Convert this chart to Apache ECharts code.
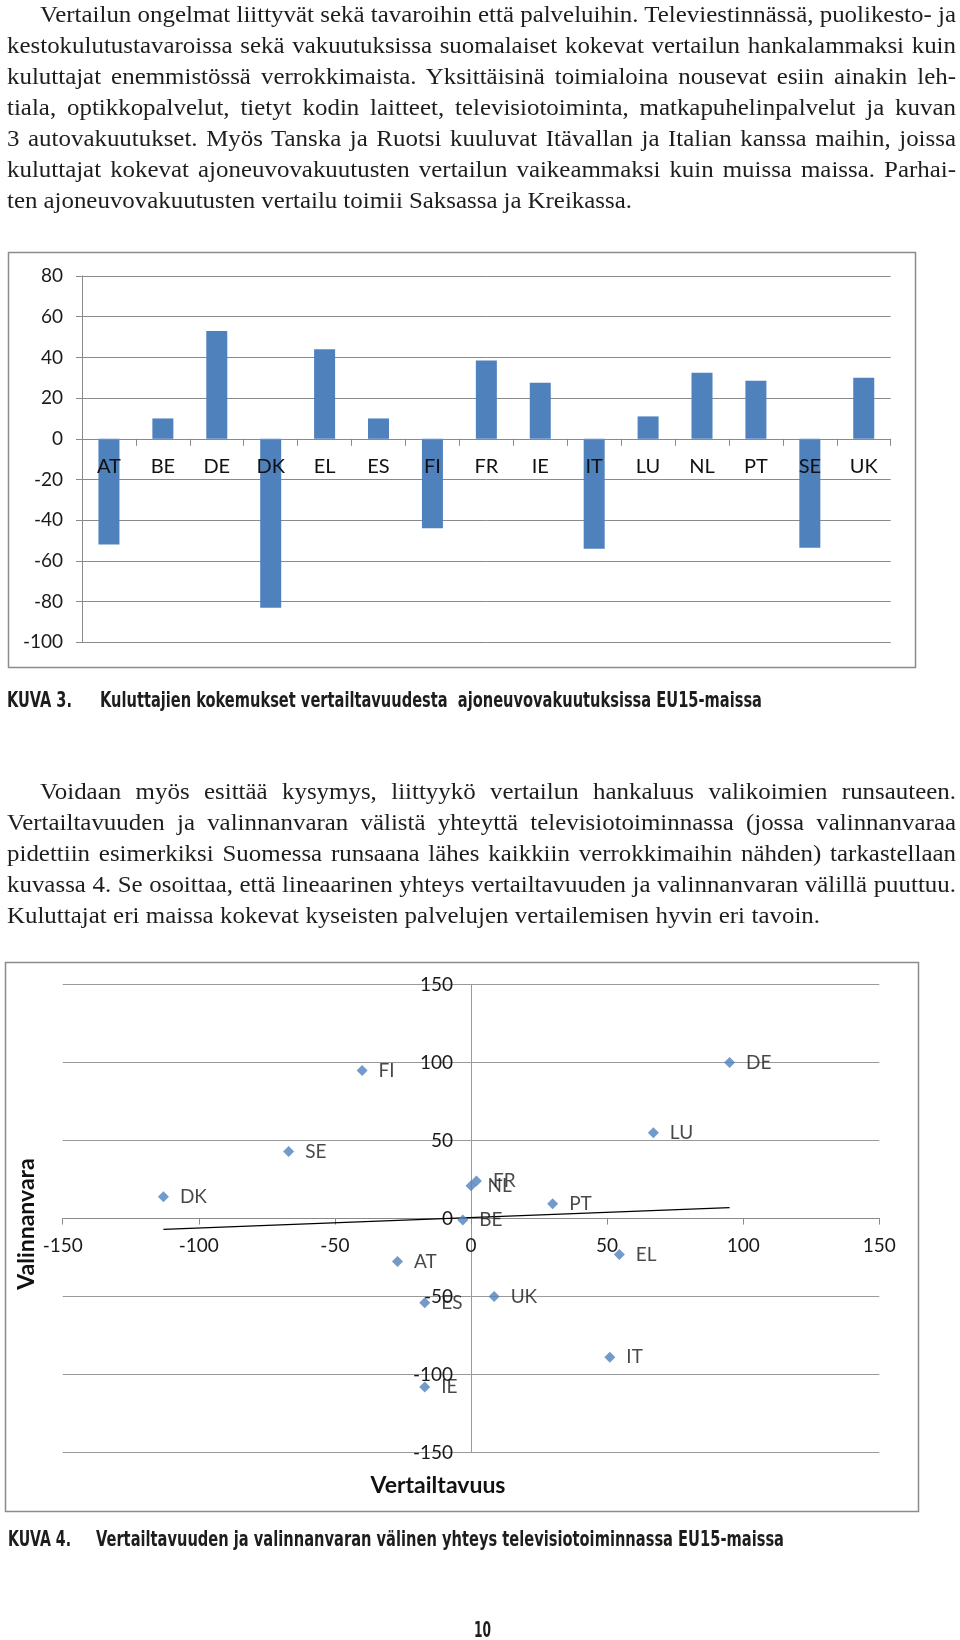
<!DOCTYPE html>
<html>
<head>
<meta charset="utf-8">
<script src="https://cdn.jsdelivr.net/npm/echarts@6/dist/echarts.min.js"></script>
<style>
html,body{margin:0;padding:0;background:#fff;}
#page{position:relative;width:960px;height:1640px;overflow:hidden;}
#chart{position:absolute;left:0;top:0;width:960px;height:1640px;}
#text{position:absolute;left:0;top:0;width:960px;height:1640px;pointer-events:none;}
</style>
</head>
<body>
<div id="page">
<div id="chart"></div>
<div id="text"></div>
</div>
<script>
// ---------- data ----------
const barCategories = ['AT','BE','DE','DK','EL','ES','FI','FR','IE','IT','LU','NL','PT','SE','UK'];
const barValues     = [-52, 10, 53, -83, 44, 10, -44, 38.5, 27.5, -54, 11, 32.5, 28.5, -53.5, 30];
const barYMin = -100, barYMax = 80, barYStep = 20;

const scatterNames = ['AT','BE','DE','DK','EL','ES','FI','FR','IE','IT','LU','NL','PT','SE','UK'];
const scatterX     = [-27, -3, 95, -113, 54.5, -17, -40, 2, -17, 51, 67, 0, 30, -67, 8.5];
const scatterY     = [-27.5, -1, 100, 14, -23, -54, 95, 24, -108, -89, 55, 21, 9.5, 43, -50];
const trendX = [-113, 95];
const trendY = [-7, 7];
const scatterMin = -150, scatterMax = 150, scatterStep = 50;

const scatterXTitle = 'Vertailtavuus';
const scatterYTitle = 'Valinnanvara';

const paragraph1 = [
  'Vertailun ongelmat liittyvät sekä tavaroihin että palveluihin. Televiestinnässä, puolikesto- ja',
  'kestokulutustavaroissa sekä vakuutuksissa suomalaiset kokevat vertailun hankalammaksi kuin',
  'kuluttajat enemmistössä verrokkimaista. Yksittäisinä toimialoina nousevat esiin ainakin leh-',
  'tiala, optikkopalvelut, tietyt kodin laitteet, televisiotoiminta, matkapuhelinpalvelut ja kuvan',
  '3 autovakuutukset. Myös Tanska ja Ruotsi kuuluvat Itävallan ja Italian kanssa maihin, joissa',
  'kuluttajat kokevat ajoneuvovakuutusten vertailun vaikeammaksi kuin muissa maissa. Parhai-',
  'ten ajoneuvovakuutusten vertailu toimii Saksassa ja Kreikassa.'
];
const paragraph2 = [
  'Voidaan myös esittää kysymys, liittyykö vertailun hankaluus valikoimien runsauteen.',
  'Vertailtavuuden ja valinnanvaran välistä yhteyttä televisiotoiminnassa (jossa valinnanvaraa',
  'pidettiin esimerkiksi Suomessa runsaana lähes kaikkiin verrokkimaihin nähden) tarkastellaan',
  'kuvassa 4. Se osoittaa, että lineaarinen yhteys vertailtavuuden ja valinnanvaran välillä puuttuu.',
  'Kuluttajat eri maissa kokevat kyseisten palvelujen vertailemisen hyvin eri tavoin.'
];
const caption3Label = 'KUVA 3.';
const caption3Text  = 'Kuluttajien kokemukset vertailtavuudesta  ajoneuvovakuutuksissa EU15-maissa';
const caption4Label = 'KUVA 4.';
const caption4Text  = 'Vertailtavuuden ja valinnanvaran välinen yhteys televisiotoiminnassa EU15-maissa';
const pageNumber = '10';

// ---------- chart ----------
const BLUE = '#4F81BD';
const GRIDC = '#8a8a8a';
const LABELC = '#1a1a1a';
const FONT = 'Lato, "Open Sans", sans-serif';

const chart = echarts.init(document.getElementById('chart'), null, {renderer:'canvas'});

const scatterData = scatterNames.map((n,i)=>({name:n, value:[scatterX[i], scatterY[i]]}));
const trendData = trendX.map((x,i)=>[x, trendY[i]]);

// grid geometry (layout only)
const g0 = {left:82, top:276, width:808.7, height:366.3};
const g1 = {left:62.7, top:984.6, width:816.6, height:467.9};
// distance of the zero line from the grid edge, so the axes sit on zero
const barZeroOffset = -(g0.height * (0 - barYMin) / (barYMax - barYMin));
const scXZeroOffset = -(g1.height * (0 - scatterMin) / (scatterMax - scatterMin));
const scYZeroOffset = -(g1.width * (0 - scatterMin) / (scatterMax - scatterMin));

chart.setOption({
  animation:false,
  textStyle:{fontFamily:FONT},
  grid:[
    Object.assign({containLabel:false}, g0),
    Object.assign({containLabel:false}, g1)
  ],
  xAxis:[
    {
      gridIndex:0, type:'category', data:barCategories, z:5, position:'bottom', offset:barZeroOffset,
      axisLine:{show:true, onZero:false, lineStyle:{color:GRIDC, width:1}},
      axisTick:{show:true, length:7, inside:false, lineStyle:{color:GRIDC}},
      axisLabel:{fontSize:20, color:'#111', margin:18, fontFamily:FONT, interval:0},
      splitLine:{show:false}
    },
    {
      gridIndex:1, type:'value', min:scatterMin, max:scatterMax, interval:scatterStep,
      position:'bottom', offset:scXZeroOffset,
      axisLine:{show:true, onZero:false, lineStyle:{color:GRIDC, width:1}},
      axisTick:{show:true, length:6, inside:false, lineStyle:{color:GRIDC}},
      axisLabel:{fontSize:19, color:LABELC, margin:18, fontFamily:FONT},
      splitLine:{show:false}
    }
  ],
  yAxis:[
    {
      gridIndex:0, type:'value', min:barYMin, max:barYMax, interval:barYStep,
      axisLine:{show:true, lineStyle:{color:GRIDC, width:1}},
      axisTick:{show:true, length:6, inside:false, lineStyle:{color:GRIDC}},
      axisLabel:{fontSize:19, color:LABELC, margin:19, fontFamily:FONT},
      splitLine:{show:true, lineStyle:{color:GRIDC, width:1}}
    },
    {
      gridIndex:1, type:'value', min:scatterMin, max:scatterMax, interval:scatterStep,
      position:'left', offset:scYZeroOffset,
      axisLine:{show:true, onZero:false, lineStyle:{color:'#9a9a9a', width:1}},
      axisTick:{show:false},
      axisLabel:{fontSize:19, color:LABELC, margin:18, fontFamily:FONT},
      splitLine:{show:true, lineStyle:{color:'#9a9a9a', width:1}}
    }
  ],
  series:[
    {
      type:'bar', xAxisIndex:0, yAxisIndex:0, data:barValues,
      barWidth:21, itemStyle:{color:BLUE}, z:2
    },
    {
      type:'line', xAxisIndex:1, yAxisIndex:1, data:trendData,
      symbol:'none', lineStyle:{color:'#000', width:1.3}, z:2, silent:true
    },
    {
      type:'scatter', xAxisIndex:1, yAxisIndex:1, data:scatterData,
      symbol:'diamond', symbolSize:[11,11], itemStyle:{color:BLUE}, z:3,
      label:{show:true, position:'right', distance:11, formatter:'{b}',
             fontSize:19, color:LABELC, fontFamily:FONT}
    }
  ],
  graphic:[
    {type:'rect', shape:{x:8.5, y:252.5, width:907, height:415}, style:{fill:'none', stroke:'#8c8c8c', lineWidth:1.5}, z:-1},
    {type:'rect', shape:{x:5.5, y:962.5, width:913, height:549}, style:{fill:'none', stroke:'#8c8c8c', lineWidth:1.5}, z:-1},
    {type:'text', x:438, y:1486, z:10,
     style:{text:scatterXTitle, font:'bold 23px Lato, sans-serif', fill:'#111',
            align:'center', verticalAlign:'middle', textAlign:'center', textVerticalAlign:'middle'}},
    {type:'text', x:27, y:1224, rotation:Math.PI/2, z:10,
     style:{text:scatterYTitle, font:'bold 23px Lato, sans-serif', fill:'#111',
            align:'center', verticalAlign:'middle', textAlign:'center', textVerticalAlign:'middle'}}
  ]
});

// ---------- page text ----------
const layer = document.getElementById('text');
function makeLine(text, font, color){
  const d = document.createElement('div');
  d.style.cssText = 'position:absolute;left:0;top:0;white-space:pre;transform-origin:0 0;line-height:normal;';
  d.style.font = font;
  d.style.color = color;
  const s = document.createElement('span'); s.textContent = text;
  const m = document.createElement('span');
  m.style.cssText = 'display:inline-block;width:0;height:0;vertical-align:baseline;';
  d.appendChild(s); d.appendChild(m);
  layer.appendChild(d);
  const dr = d.getBoundingClientRect();
  const w = s.getBoundingClientRect().width;
  const base = m.getBoundingClientRect().top - dr.top;
  return {d, s, w, base, text};
}
const BODYFONT = '24px "Liberation Serif", "DejaVu Serif", serif';
const BODYC = '#1d1d1b';
function layoutParagraph(lines, specs){
  const items = lines.map((t,i)=>makeLine(t, BODYFONT, BODYC));
  const ratios = items.map((it,i)=>(specs[i].r - specs[i].x)/it.w).filter((r,i)=>specs[i].j);
  return {items, ratios};
}
const p1Specs = [
  {x:40, r:956, j:true},{x:7, r:956, j:true},{x:7, r:956, j:true},{x:7, r:956, j:true},
  {x:7, r:956, j:true},{x:7, r:956, j:true},{x:7, r:632, j:false}
];
const p2Specs = [
  {x:40, r:956, j:true},{x:7, r:956, j:true},{x:7, r:956, j:true},{x:7, r:956, j:true},{x:7, r:820, j:false}
];
const P1 = layoutParagraph(paragraph1, p1Specs);
const P2 = layoutParagraph(paragraph2, p2Specs);
const allR = P1.ratios.concat(P2.ratios);
const g = Math.min.apply(null, allR);
function finish(P, specs, base0){
  P.items.forEach((it,i)=>{
    const sp = specs[i];
    const target = (sp.r - sp.x)/g;
    const spaces = (it.text.match(/ /g)||[]).length;
    if (spaces>0) it.d.style.wordSpacing = ((target - it.w)/spaces) + 'px';
    const top = base0 + i*31 - it.base;
    it.d.style.transform = 'translate(' + sp.x + 'px,' + top + 'px) scaleX(' + g + ')';
  });
}
finish(P1, p1Specs, 22);
finish(P2, p2Specs, 799);

const CAPFONT = 'bold 21px "Liberation Sans Narrow", "DejaVu Sans Condensed", "Liberation Sans", sans-serif';
function placeFit(text, font, color, x, right, baseline){
  const it = makeLine(text, font, color);
  const sc = (right - x)/it.w;
  it.d.style.transform = 'translate(' + x + 'px,' + (baseline - it.base) + 'px) scaleX(' + sc + ')';
}
placeFit(caption3Label, CAPFONT, '#1d1d1b', 7, 72, 707);
placeFit(caption3Text, CAPFONT, '#1d1d1b', 100, 762, 707);
placeFit(caption4Label, CAPFONT, '#1d1d1b', 8, 71, 1546);
placeFit(caption4Text, CAPFONT, '#1d1d1b', 96, 784, 1546);
placeFit(pageNumber, CAPFONT, '#1d1d1b', 474, 491, 1637);
</script>
</body>
</html>
